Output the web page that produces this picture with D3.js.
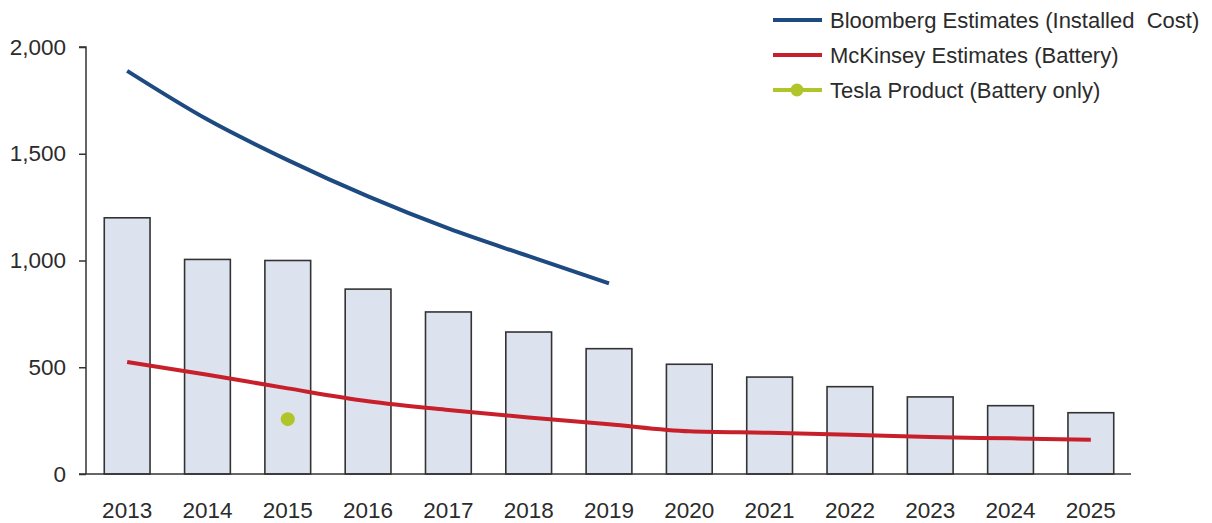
<!DOCTYPE html>
<html><head><meta charset="utf-8">
<script src="https://cdn.jsdelivr.net/npm/d3@7"></script>
<style>body{margin:0;background:#fff;} svg{display:block;} text{font-family:"Liberation Sans",Arial,sans-serif;}</style>
</head><body>
<svg id="c" width="1212" height="523"></svg>
<script>
const years = ["2013","2014","2015","2016","2017","2018","2019","2020","2021","2022","2023","2024","2025"];
const barValues = [1200,1005,1000,866,759,665,587,514,454,409,361,320,287];
const bloombergYears = ["2013","2014","2015","2016","2017","2018","2019"];
const bloombergValues = [1888,1660,1470,1300,1150,1020,893];
const mckinseyValues = [525,465,401,341,300,265,233,200,193,184,173,167,160];
const teslaYears = ["2015"];
const teslaValues = [257];
const yTicks = [0,500,1000,1500,2000];
const legendLabels = ["Bloomberg Estimates (Installed\u00a0 Cost)","McKinsey Estimates (Battery)","Tesla Product (Battery only)"];
const colors = {blue:"#1d4a80", red:"#c8202a", green:"#afc52a", barFill:"#dde3ee", axis:"#333333", text:"#2b2b2b"};

const svg = d3.select("#c");
const x = d3.scaleBand().domain(years).range([87,1131]).paddingInner(0.43).paddingOuter(0.215);
const y = d3.scaleLinear().domain([0,2000]).range([474,47]);
const cx = d => x(d) + x.bandwidth()/2;

// bars
svg.append("g").selectAll("rect").data(years).join("rect")
  .attr("x", d => x(d)).attr("width", x.bandwidth())
  .attr("y", (d,i) => y(barValues[i])).attr("height", (d,i) => y(0) - y(barValues[i]))
  .attr("fill", colors.barFill).attr("stroke", colors.axis).attr("stroke-width", 1.6);

// y axis
const ya = svg.append("g").attr("transform","translate(86,0)")
  .call(d3.axisLeft(y).tickValues(yTicks).tickFormat(d3.format(",")).tickSize(7).tickPadding(13));
ya.select(".domain").attr("stroke", colors.axis).attr("stroke-width",1.5).attr("d","M0,474V47H-7");
ya.selectAll(".tick line").attr("stroke", colors.axis).attr("stroke-width",1.5);
ya.selectAll(".tick text").attr("font-size",22.5).attr("fill",colors.text);

// x axis
const xa = svg.append("g").attr("transform","translate(0,474)")
  .call(d3.axisBottom(x).tickSize(0).tickPadding(28));
xa.select(".domain").attr("stroke", colors.axis).attr("stroke-width",1.5).attr("d","M79,0H1131");
xa.selectAll(".tick text").attr("font-size",22.5).attr("fill",colors.text);

// lines
const line = d3.line().x(d => cx(d[0])).y(d => y(d[1])).curve(d3.curveMonotoneX);
svg.append("path").datum(bloombergYears.map((d,i)=>[d,bloombergValues[i]]))
  .attr("d", line).attr("fill","none").attr("stroke",colors.blue).attr("stroke-width",4);
svg.append("path").datum(years.map((d,i)=>[d,mckinseyValues[i]]))
  .attr("d", line).attr("fill","none").attr("stroke",colors.red).attr("stroke-width",4);
svg.append("g").selectAll("circle").data(teslaYears).join("circle")
  .attr("cx", d => cx(d)).attr("cy", (d,i) => y(teslaValues[i])).attr("r",7).attr("fill",colors.green);

// legend
const lg = svg.append("g");
const lc = [colors.blue, colors.red, colors.green];
legendLabels.forEach((t,i) => {
  const yy = 20 + i*35;
  lg.append("line").attr("x1",773).attr("x2",822).attr("y1",yy).attr("y2",yy)
    .attr("stroke",lc[i]).attr("stroke-width",4);
  if (i===2) lg.append("circle").attr("cx",797).attr("cy",yy).attr("r",6.5).attr("fill",colors.green);
  lg.append("text").attr("x",830).attr("y",yy+8).attr("font-size",22).attr("fill",colors.text).text(t);
});
</script>
</body></html>
